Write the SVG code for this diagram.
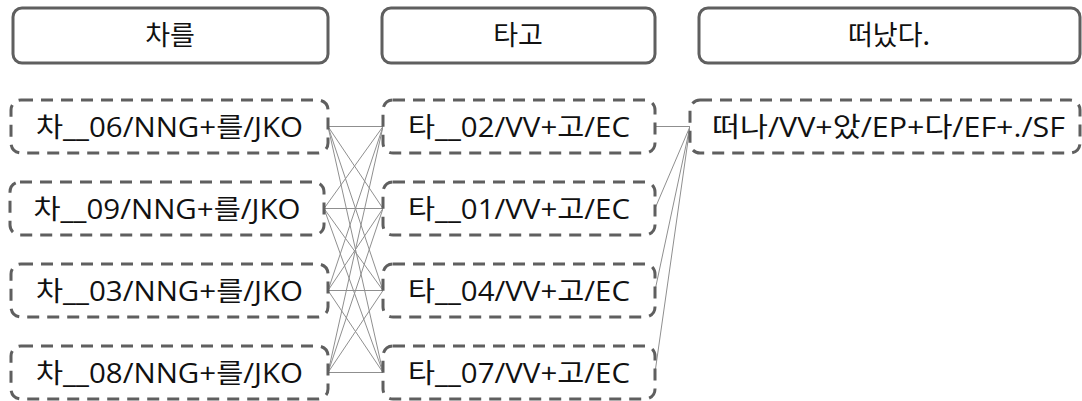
<svg xmlns="http://www.w3.org/2000/svg" width="1082" height="401" viewBox="0 0 1082 401">
<style>
.hdr{fill:#fff;stroke:#5f5f5f;stroke-width:3}
.node{fill:#fff;stroke:#5f5f5f;stroke-width:3;stroke-dasharray:12 8}
.t{font-family:'Open Sans','Noto Sans CJK KR',sans-serif;font-size:27px;fill:#111;text-anchor:middle}
.h{font-family:'Noto Sans CJK KR',sans-serif;font-size:27px;fill:#111;text-anchor:middle}
.edges line{stroke:#8f8f8f;stroke-width:1}
</style>
<rect width="1082" height="401" fill="#fff"/>
<g id="header-1"><rect class="hdr" x="13" y="8" width="315" height="55" rx="9"/><text class="h" x="170" y="45">차를</text></g>
<g id="header-2"><rect class="hdr" x="382" y="8" width="273" height="55" rx="9"/><text class="h" x="518" y="45">타고</text></g>
<g id="header-3"><rect class="hdr" x="699" y="8" width="381" height="55" rx="9"/><text class="h" x="889" y="45">떠났다.</text></g>
<g class="edges" id="connectors">
<line x1="328" y1="126.5" x2="383" y2="126.5"/><line x1="328" y1="126.5" x2="383" y2="208.5"/><line x1="328" y1="126.5" x2="383" y2="290.5"/><line x1="328" y1="126.5" x2="383" y2="372.5"/>
<line x1="324" y1="208.5" x2="383" y2="126.5"/><line x1="324" y1="208.5" x2="383" y2="208.5"/><line x1="324" y1="208.5" x2="383" y2="290.5"/><line x1="324" y1="208.5" x2="383" y2="372.5"/>
<line x1="328" y1="290.5" x2="383" y2="126.5"/><line x1="328" y1="290.5" x2="383" y2="208.5"/><line x1="328" y1="290.5" x2="383" y2="290.5"/><line x1="328" y1="290.5" x2="383" y2="372.5"/>
<line x1="328" y1="372.5" x2="383" y2="126.5"/><line x1="328" y1="372.5" x2="383" y2="208.5"/><line x1="328" y1="372.5" x2="383" y2="290.5"/><line x1="328" y1="372.5" x2="383" y2="372.5"/>
<line x1="655" y1="126.5" x2="690" y2="126.5"/><line x1="655" y1="208.5" x2="690" y2="126.5"/><line x1="655" y1="290.5" x2="690" y2="126.5"/><line x1="655" y1="372.5" x2="690" y2="126.5"/>
</g>
<g id="cha-06"><rect class="node" x="11" y="100" width="317" height="53" rx="10"/><text class="t" x="169.5" y="137" textLength="267" lengthAdjust="spacingAndGlyphs">차__06/NNG+를/JKO</text></g>
<g id="cha-09"><rect class="node" x="10" y="182" width="314" height="53" rx="10"/><text class="t" x="167" y="219" textLength="267" lengthAdjust="spacingAndGlyphs">차__09/NNG+를/JKO</text></g>
<g id="cha-03"><rect class="node" x="11" y="264" width="317" height="53" rx="10"/><text class="t" x="169.5" y="301" textLength="267" lengthAdjust="spacingAndGlyphs">차__03/NNG+를/JKO</text></g>
<g id="cha-08"><rect class="node" x="11" y="346" width="317" height="53" rx="10"/><text class="t" x="169.5" y="383" textLength="267" lengthAdjust="spacingAndGlyphs">차__08/NNG+를/JKO</text></g>
<g id="ta-02"><rect class="node" x="383" y="100" width="272" height="53" rx="10"/><text class="t" x="519" y="137" textLength="222" lengthAdjust="spacingAndGlyphs">타__02/VV+고/EC</text></g>
<g id="ta-01"><rect class="node" x="383" y="182" width="272" height="53" rx="10"/><text class="t" x="519" y="219" textLength="222" lengthAdjust="spacingAndGlyphs">타__01/VV+고/EC</text></g>
<g id="ta-04"><rect class="node" x="383" y="264" width="272" height="53" rx="10"/><text class="t" x="519" y="301" textLength="222" lengthAdjust="spacingAndGlyphs">타__04/VV+고/EC</text></g>
<g id="ta-07"><rect class="node" x="383" y="346" width="272" height="53" rx="10"/><text class="t" x="519" y="383" textLength="222" lengthAdjust="spacingAndGlyphs">타__07/VV+고/EC</text></g>
<g id="tteona"><rect class="node" x="690" y="100" width="390" height="53" rx="10"/><text class="t" x="888.5" y="137" textLength="353" lengthAdjust="spacingAndGlyphs">떠나/VV+았/EP+다/EF+./SF</text></g>
</svg>
